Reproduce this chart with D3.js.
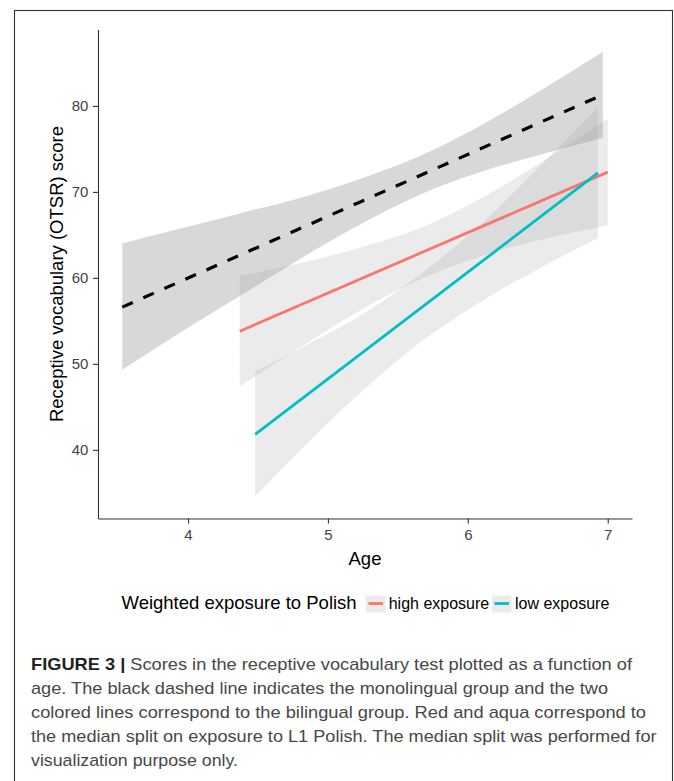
<!DOCTYPE html>
<html>
<head>
<meta charset="utf-8">
<script src="https://cdn.jsdelivr.net/npm/d3@7"></script>
<style>
  html, body { margin: 0; padding: 0; background: #ffffff; }
  svg { display: block; font-family: "Liberation Sans", Arial, Helvetica, sans-serif; }
</style>
</head>
<body>
<svg id="chart" width="674" height="781"></svg>
<script>
// ---- tick labels ----
const ageTicks = [4, 5, 6, 7];
const scoreTicks = [40, 50, 60, 70, 80];

// ---- monolingual group: regression line and 95% band ----
const monoLineAge = [3.53, 6.965];
const monoLineScore = [56.6, 81.3];
const monoBandAge = [3.53, 3.94, 4.37, 4.80, 5.23, 5.66, 6.09, 6.51, 6.965];
const monoUpper   = [64.0, 65.7, 67.5, 69.3, 71.5, 74.2, 77.7, 81.7, 86.3];
const monoLower   = [49.3, 53.6, 57.9, 62.2, 66.2, 69.7, 72.3, 74.3, 76.3];

// ---- bilingual, high exposure ----
const highLineAge = [4.37, 7.0];
const highLineScore = [53.8, 72.3];
const highBandAge = [4.37, 4.80, 5.23, 5.66, 6.09, 6.51, 7.0];
const highUpper   = [60.2, 61.7, 63.5, 65.8, 69.2, 73.3, 78.5];
const highLower   = [47.4, 51.9, 56.2, 59.8, 62.5, 64.4, 66.1];

// ---- bilingual, low exposure ----
const lowLineAge = [4.48, 6.93];
const lowLineScore = [41.8, 72.2];
const lowBandAge = [4.48, 4.80, 5.23, 5.66, 6.09, 6.51, 6.93];
const lowUpper   = [49.1, 51.8, 55.6, 60.4, 66.2, 72.9, 79.8];
const lowLower   = [34.6, 39.9, 46.6, 52.5, 57.2, 61.1, 64.6];

// ---- legend and caption text ----
const legendTitle = "Weighted exposure to Polish";
const legendLabels = ["high exposure", "low exposure"];
const legendColors = ["#F8766D", "#00BFC4"];
const captionLead = "FIGURE 3 |";
const captionLines = [
  " Scores in the receptive vocabulary test plotted as a function of",
  "age. The black dashed line indicates the monolingual group and the two",
  "colored lines correspond to the bilingual group. Red and aqua correspond to",
  "the median split on exposure to L1 Polish. The median split was performed for",
  "visualization purpose only."
];

const svg = d3.select("#chart");

// outer figure frame
svg.append("rect")
  .attr("x", 14.5).attr("y", 10.5)
  .attr("width", 658).attr("height", 800)
  .attr("fill", "none").attr("stroke", "#333").attr("stroke-width", 1.1);

// scales: data extent expanded by 5% on each side
const allAges = [...monoBandAge, ...highBandAge, ...lowBandAge];
const allScores = [...monoUpper, ...monoLower, ...highUpper, ...highLower, ...lowUpper, ...lowLower];
function expand([a, b]) { const d = (b - a) * 0.05; return [a - d, b + d]; }
const x = d3.scaleLinear().domain(expand(d3.extent(allAges))).range([98, 632]);
const y = d3.scaleLinear().domain(expand(d3.extent(allScores))).range([518.5, 29.5]);

const plot = svg.append("g");

// confidence bands
const area = d3.area()
  .x(d => x(d.age)).y0(d => y(d.lo)).y1(d => y(d.hi))
  .curve(d3.curveMonotoneX);
function band(ages, lo, hi) { return ages.map((a, i) => ({ age: a, lo: lo[i], hi: hi[i] })); }

plot.append("path").datum(band(monoBandAge, monoLower, monoUpper))
  .attr("d", area).attr("fill", "#999999").attr("fill-opacity", 0.38);
plot.append("path").datum(band(highBandAge, highLower, highUpper))
  .attr("d", area).attr("fill", "#999999").attr("fill-opacity", 0.2);
plot.append("path").datum(band(lowBandAge, lowLower, lowUpper))
  .attr("d", area).attr("fill", "#999999").attr("fill-opacity", 0.2);

// fitted lines
const line = d3.line().x(d => x(d[0])).y(d => y(d[1]));
function pts(ages, scores) { return ages.map((a, i) => [a, scores[i]]); }

plot.append("path").datum(pts(monoLineAge, monoLineScore))
  .attr("d", line).attr("fill", "none").attr("stroke", "#000")
  .attr("stroke-width", 3.2).attr("stroke-dasharray", "11.5,11.5");
plot.append("path").datum(pts(highLineAge, highLineScore))
  .attr("d", line).attr("fill", "none").attr("stroke", legendColors[0])
  .attr("stroke-width", 2.8);
plot.append("path").datum(pts(lowLineAge, lowLineScore))
  .attr("d", line).attr("fill", "none").attr("stroke", legendColors[1])
  .attr("stroke-width", 2.8);

// axes
const axisColor = "#333";
const gx = svg.append("g")
  .attr("transform", `translate(0,${y.range()[0]})`)
  .call(d3.axisBottom(x).tickValues(ageTicks).tickFormat(d3.format("d"))
    .tickSize(5).tickSizeOuter(0).tickPadding(6.3));
const gy = svg.append("g")
  .attr("transform", `translate(${x.range()[0]},0)`)
  .call(d3.axisLeft(y).tickValues(scoreTicks).tickFormat(d3.format("d"))
    .tickSize(5).tickSizeOuter(0).tickPadding(4.7));
[gx, gy].forEach(g => {
  g.select(".domain").attr("stroke", axisColor).attr("stroke-width", 1.1);
  g.selectAll(".tick line").attr("stroke", axisColor).attr("stroke-width", 1.1);
  g.selectAll(".tick text").attr("fill", "#444")
    .style("font-size", "15px").style("font-family", "Liberation Sans, Arial, sans-serif");
});

// axis titles
svg.append("text")
  .attr("x", (x.range()[0] + x.range()[1]) / 2).attr("y", 565)
  .attr("text-anchor", "middle").attr("fill", "#000")
  .style("font-size", "18.5px").text("Age");
svg.append("text")
  .attr("transform", `translate(63,274) rotate(-90)`)
  .attr("text-anchor", "middle").attr("fill", "#000")
  .style("font-size", "18.5px").text("Receptive vocabulary (OTSR) score");

// legend
const lg = svg.append("g");
lg.append("text").attr("x", 121.5).attr("y", 608.5)
  .attr("fill", "#000").style("font-size", "18.5px").text(legendTitle);
const keyX = [366, 492];
const labelX = [388.7, 515];
legendLabels.forEach((lab, i) => {
  lg.append("rect").attr("x", keyX[i]).attr("y", 595.5)
    .attr("width", 19.5).attr("height", 17)
    .attr("fill", "#999999").attr("fill-opacity", 0.2);
  lg.append("line")
    .attr("x1", keyX[i] + 2.5).attr("x2", keyX[i] + 17)
    .attr("y1", 603.5).attr("y2", 603.5)
    .attr("stroke", legendColors[i]).attr("stroke-width", 2.8);
  lg.append("text").attr("x", labelX[i]).attr("y", 608.5)
    .attr("fill", "#000").style("font-size", "16px").text(lab);
});

// figure caption
const capWidths = [601, 577, 615, 625.5, 207];
const cap = svg.append("g").attr("fill", "#474747").style("font-size", "17px");
captionLines.forEach((t, i) => {
  const tx = cap.append("text")
    .attr("x", 31).attr("y", 669.5 + i * 24)
    .attr("textLength", capWidths[i]).attr("lengthAdjust", "spacingAndGlyphs");
  if (i === 0) {
    tx.append("tspan").attr("font-weight", "bold").attr("fill", "#222").text(captionLead);
  }
  tx.append("tspan").text(t);
});
</script>
</body>
</html>
